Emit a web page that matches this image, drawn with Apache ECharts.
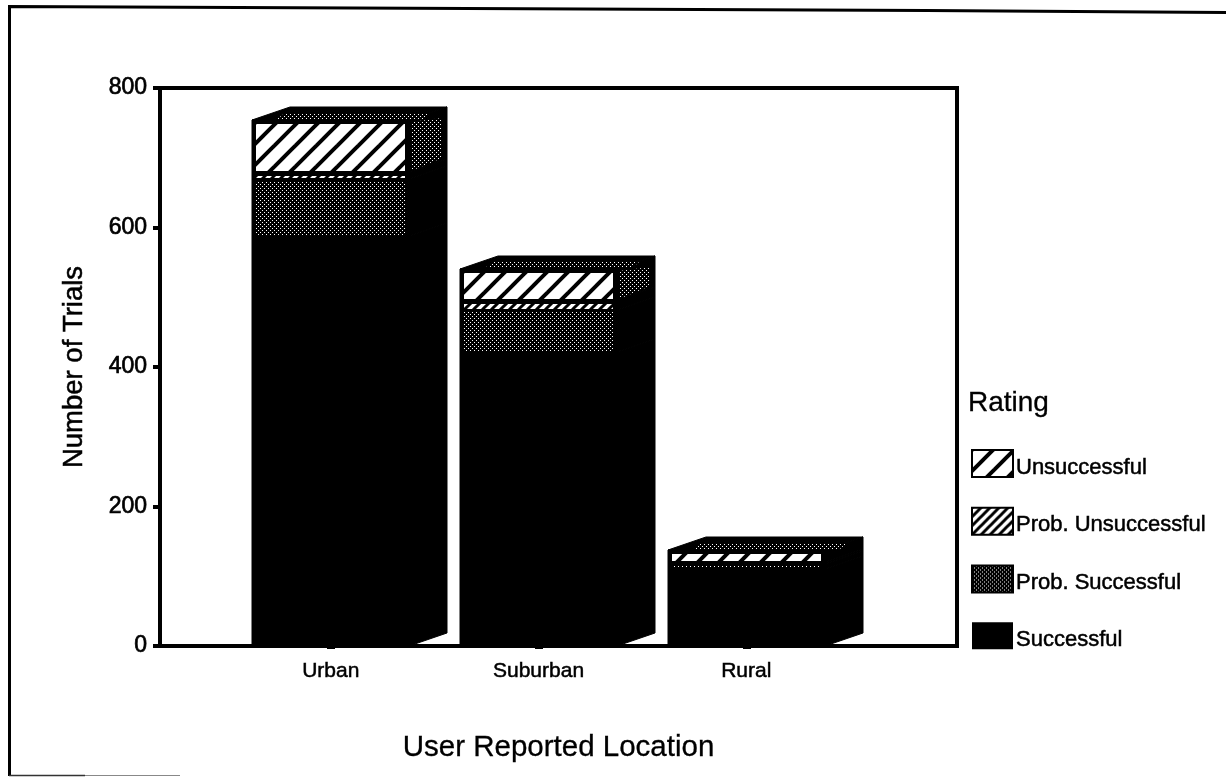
<!DOCTYPE html>
<html><head><meta charset="utf-8">
<style>html,body{margin:0;padding:0;background:#fff}#c{width:1226px;height:777px}</style>
<script src="https://cdn.jsdelivr.net/npm/echarts@6/dist/echarts.min.js"></script>
</head><body><div id="c"></div>
<script>
const categories = ['Urban','Suburban','Rural'];
const ratings = ['Successful','Prob. Successful','Prob. Unsuccessful','Unsuccessful'];
const successful = [588,421,111];
const probSuccessful = [82,61,6];
const probUnsuccessful = [10,14,3];
const unsuccessful = [74,44,18];
const yTicks = [0,200,400,600,800];

function tile(w,h,draw){const c=document.createElement('canvas');c.width=w;c.height=h;const g=c.getContext('2d');draw(g,w,h);return c;}
function hatch(step,lw){return tile(step,step,(g,w,h)=>{g.fillStyle='#fff';g.fillRect(0,0,w,h);g.strokeStyle='#000';g.lineWidth=lw;
  for(const d of [-w,0,w]){g.beginPath();g.moveTo(d-w,2*h);g.lineTo(d+2*w,-h);g.stroke();}});}
const stipple = tile(4,4,(g)=>{g.fillStyle='#000';g.fillRect(0,0,4,4);g.fillStyle='#fff';g.fillRect(0,0,1,1);g.fillRect(2,2,1,1);});
const fills = ['#000',{image:stipple,repeat:'repeat'},{image:hatch(9,3),repeat:'repeat'},{image:hatch(21,4),repeat:'repeat'}];
const values = [successful,probSuccessful,probUnsuccessful,unsuccessful];

const BAR = 0.755, DX = 38, DY = 13;
const insetTop = [0,2,4,4];
function renderSegment(si){return function(params,api){
  const i=api.value(0), lo=api.value(1), hi=api.value(2);
  const a=api.coord([i-BAR/2,lo]), b=api.coord([i+BAR/2,hi]);
  const x0=Math.round(a[0]), x1=Math.round(b[0]), yb=Math.round(a[1]), yt=Math.round(b[1]);
  const isTop = si===ratings.length-1;
  const ink={fill:'#000',stroke:'#000',lineWidth:1};
  const kids=[];
  if(isTop) kids.push({type:'polygon',shape:{points:[[x0,yt],[x0+DX,yt-DY],[x1+DX,yt-DY],[x1,yt]]},style:ink});
  kids.push({type:'polygon',shape:{points:[[x1,yb],[x1+DX,yb-DY],[x1+DX,yt-DY],[x1,yt]]},style:ink});
  kids.push({type:'rect',shape:{x:x0,y:yt,width:x1-x0,height:yb-yt},style:ink});
  if(si>0){
    const it=insetTop[si], ib=1, h=yb-yt-it-ib;
    if(h>0) kids.push({type:'rect',shape:{x:x0+4,y:yt+it,width:x1-x0-8,height:h},style:{fill:fills[si]}});
  }
  if(isTop){
    kids.push({type:'polygon',shape:{points:[[x0+25,yt-1],[x0+33,yt-7],[x1+22,yt-7],[x1+15,yt-1]]},style:{fill:fills[1]}});
    const pts=[[x1+2,yt+2],[x1+33,yt-2],[x1+33,yb-14],[x1+2,yb-1]];
    if(yb-14>yt-2) kids.push({type:'polygon',shape:{points:pts},style:{fill:fills[1]}});
  }
  return {type:'group',children:kids};
};}

const series = ratings.map((name,si)=>({
  name,type:'custom',z:si+2,
  encode:{x:0,y:[1,2]},
  itemStyle:{color:fills[si],borderColor:'#000',borderWidth:si===0?0:4},
  renderItem:renderSegment(si),
  data:categories.map((c,i)=>{
    let lo=0;for(let k=0;k<si;k++)lo+=values[k][i];
    return [i,lo,lo+values[si][i]];
  })
}));

const font='"Liberation Sans",Arial,sans-serif';
const ink={color:'#000',fontFamily:font,textBorderColor:'#000'};
const chart=echarts.init(document.getElementById('c'),null,{renderer:'canvas'});
chart.setOption({
  animation:false,backgroundColor:'#fff',
  grid:{left:160,right:269,top:88,bottom:131,show:true,borderColor:'#000',borderWidth:4,backgroundColor:'transparent'},
  title:{text:'Rating',left:963,top:384,textStyle:{fontFamily:font,fontWeight:'normal',fontSize:28,color:'#000',textBorderColor:'#000',textBorderWidth:0.3}},
  legend:{orient:'vertical',left:966,top:444,itemWidth:41,itemHeight:27,itemGap:28,icon:'rect',
    data:ratings.slice().reverse(),selectedMode:false,
    formatter:n=>'{t|'+n+'}',
    textStyle:{rich:{t:Object.assign({},ink,{fontSize:22,textBorderWidth:0.5,padding:[8,0,0,-2]})}}},
  xAxis:{type:'value',min:-171/208,max:627/208,splitLine:{show:false},
    name:'User Reported Location',nameLocation:'middle',nameGap:87,
    nameTextStyle:Object.assign({},ink,{fontSize:29.5,textBorderWidth:0.3}),
    axisLine:{show:true,onZero:false,lineStyle:{color:'#000',width:4}},
    axisTick:{show:true,customValues:categories.map((c,i)=>i),length:3,lineStyle:{color:'#000',width:8}},
    axisLabel:{customValues:categories.map((c,i)=>i),margin:15,formatter:v=>categories[v],fontSize:21,fontFamily:font,color:'#000',textBorderColor:'#000',textBorderWidth:0.5}},
  yAxis:{type:'value',min:0,max:800,interval:200,splitLine:{show:false},
    name:'Number of Trials',nameLocation:'middle',nameGap:72,nameRotate:90,
    nameTextStyle:Object.assign({},ink,{fontSize:27.5,textBorderWidth:0.5}),
    axisLine:{show:true,onZero:false,lineStyle:{color:'#000',width:4}},
    axisTick:{show:true,length:7,lineStyle:{color:'#000',width:4}},
    axisLabel:{customValues:yTicks,margin:13,fontSize:23,fontFamily:font,color:'#000',textBorderColor:'#000',textBorderWidth:0.7}},
  series,
  graphic:[{type:'polyline',silent:true,z:100,shape:{points:[[9.5,776],[9.5,6.5],[926,10.5],[1226,12.5]]},style:{fill:'none',stroke:'#000',lineWidth:3}},
           {type:'line',silent:true,z:100,shape:{x1:9,y1:775.5,x2:85,y2:775.5},style:{stroke:'#333',lineWidth:1.5}},
           {type:'line',silent:true,z:100,shape:{x1:85,y1:775.5,x2:180,y2:775.5},style:{stroke:'#888',lineWidth:1}}]
});
</script></body></html>
